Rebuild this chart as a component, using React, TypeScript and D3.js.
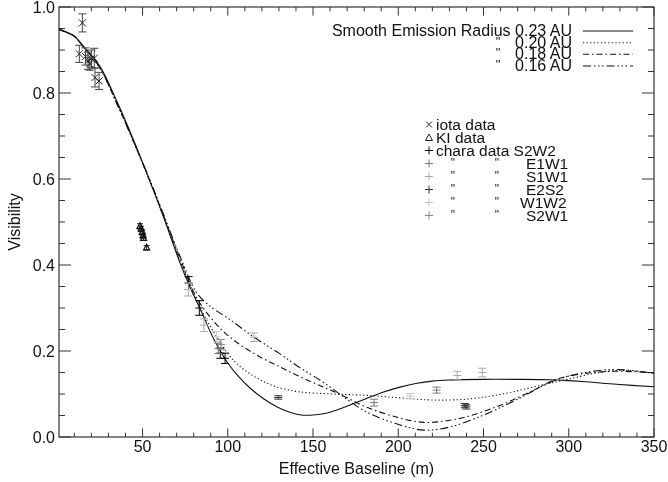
import React, { useEffect } from "react";
import * as d3 from "d3";

const W = 668;
const H = 482;
const PLOT = { left: 59, right: 654, top: 7, bottom: 437 };

// ---- model curves: [baseline (m), visibility] ----
const radius023: [number, number][] = [
  [1, 0.948], [10, 0.932], [15, 0.91], [25, 0.862], [35, 0.78], [45, 0.688], [55, 0.588],
  [62, 0.515], [72, 0.405], [77, 0.356], [84, 0.296], [92, 0.226], [100, 0.172], [106, 0.142],
  [113, 0.114], [121, 0.089], [129, 0.07], [136, 0.058], [143, 0.051], [150, 0.051], [156, 0.054],
  [164, 0.063], [172, 0.075], [181, 0.089], [191, 0.104], [201, 0.116], [211, 0.125], [220, 0.13],
  [230, 0.1325], [250, 0.134], [270, 0.134], [289, 0.133], [308, 0.129], [328, 0.1225], [350, 0.117],
];
const radius020: [number, number][] = [
  [1, 0.948], [10, 0.932], [15, 0.909], [25, 0.859], [35, 0.777], [45, 0.685], [55, 0.588],
  [62, 0.516], [72, 0.41], [82, 0.316], [92, 0.242], [101, 0.189], [106, 0.168], [113, 0.147],
  [121, 0.129], [129, 0.116], [142, 0.105], [162, 0.1], [181, 0.097], [201, 0.091], [220, 0.086],
  [240, 0.088], [260, 0.099], [279, 0.116], [299, 0.134], [318, 0.15], [333, 0.155], [350, 0.148],
];
const radius018: [number, number][] = [
  [1, 0.948], [10, 0.932], [15, 0.909], [25, 0.858], [35, 0.775], [45, 0.684], [55, 0.589],
  [62, 0.518], [72, 0.415], [82, 0.322], [92, 0.268], [101, 0.233], [115, 0.195], [130, 0.164],
  [142, 0.141], [155, 0.118], [166, 0.099], [181, 0.07], [201, 0.044], [215, 0.034], [225, 0.036],
  [240, 0.047], [260, 0.074], [279, 0.108], [291, 0.132], [308, 0.147], [328, 0.153], [350, 0.149],
];
const radius016: [number, number][] = [
  [1, 0.948], [10, 0.932], [15, 0.909], [25, 0.858], [35, 0.775], [45, 0.685], [55, 0.591],
  [62, 0.521], [72, 0.42], [82, 0.334], [91, 0.3], [101, 0.274], [115, 0.233], [130, 0.195],
  [142, 0.162], [155, 0.13], [166, 0.099], [181, 0.059], [201, 0.028], [215, 0.016], [230, 0.023],
  [250, 0.051], [269, 0.086], [291, 0.13], [308, 0.149], [328, 0.157], [350, 0.148],
];

// ---- observations: [baseline, visibility, error] ----
const iotaData: [number, number, number][] = [
  [14.7, 0.963, 0.021], [12.9, 0.891, 0.02], [16.5, 0.885, 0.02], [18, 0.875, 0.02],
  [20, 0.88, 0.02], [21.7, 0.881, 0.023], [19, 0.868, 0.015], [22.1, 0.836, 0.022], [24.5, 0.828, 0.02],
];
const kiData: [number, number, number][] = [
  [48.5, 0.49, 0.006], [49.2, 0.484, 0.006], [49.8, 0.476, 0.006], [50.3, 0.468, 0.006],
  [50.6, 0.462, 0.005], [52.4, 0.44, 0.005],
];
const charaS2W2: [number, number, number][] = [[77, 0.358, 0.015], [83.3, 0.3, 0.017], [95.6, 0.195, 0.012], [98.4, 0.183, 0.012]];
const charaE1W1: [number, number, number][] = [[94.4, 0.206, 0.012], [185.8, 0.08, 0.008], [222.5, 0.109, 0.007]];
const charaS1W1: [number, number, number][] = [[76.8, 0.343, 0.015], [86, 0.26, 0.015], [115.4, 0.232, 0.01], [234.6, 0.143, 0.01], [249.3, 0.15, 0.01]];
const charaE2S2: [number, number, number][] = [[129.6, 0.092, 0.004], [239, 0.073, 0.005], [240, 0.07, 0.005]];
const charaW1W2: [number, number, number][] = [[93.5, 0.233, 0.012], [206.9, 0.095, 0.006]];
const charaS2W1: [number, number, number][] = [[96, 0.215, 0.012]];

const charaNames = ["S2W2", "E1W1", "S1W1", "E2S2", "W1W2", "S2W1"];
const charaColors = ["#000000", "#777777", "#aaaaaa", "#333333", "#c4c4c4", "#888888"];
const charaSets = [charaS2W2, charaE1W1, charaS1W1, charaE2S2, charaW1W2, charaS2W1];

const modelLabels = ["0.23 AU", "0.20 AU", "0.18 AU", "0.16 AU"];
const modelDashes = ["none", "1.2,2.4", "6,3,1.5,3", "8,3,1.5,2.5,1.5,2.5,1.5,3"];
const modelCurves = [radius023, radius020, radius018, radius016];

const xTicks = [50, 100, 150, 200, 250, 300, 350];
const yTicks = [0, 0.2, 0.4, 0.6, 0.8, 1.0];

const FONT = "'Liberation Sans', Arial, Helvetica, sans-serif";

export default function App() {
  useEffect(() => {
    document.body.style.margin = "0";
  }, []);

  const x = d3.scaleLinear().domain([1, 350]).range([PLOT.left, PLOT.right]);
  const y = d3.scaleLinear().domain([0, 1]).range([PLOT.bottom, PLOT.top]);
  const line = d3
    .line<[number, number]>()
    .x((d) => x(d[0]))
    .y((d) => y(d[1]))
    .curve(d3.curveCatmullRom.alpha(0.5));

  const xMinor = d3.range(10, 350, 10).filter((v) => v % 50 !== 0);
  const yMinor = d3.range(0.05, 1, 0.05).filter((v) => Math.abs(v * 5 - Math.round(v * 5)) > 1e-6);
  const axisColor = "#333";
  const XT = 8.6, XTm = 4.3, YT = 12, YTm = 6;

  const errBar = (px: number, py: number, e: number, color: string, cap: number, key: string) => {
    const y0 = y(py - e), y1 = y(py + e), cx = x(px);
    return (
      <g key={key} stroke={color} strokeWidth={1} fill="none">
        <line x1={cx} x2={cx} y1={y0} y2={y1} />
        <line x1={cx - cap / 2} x2={cx + cap / 2} y1={y0} y2={y0} />
        <line x1={cx - cap / 2} x2={cx + cap / 2} y1={y1} y2={y1} />
      </g>
    );
  };

  const legendRowsY = [129.5, 142.5, 155.5, 168.5, 181.5, 194.5, 207.5, 220.5];
  const modelRowsY = [36, 47.7, 59.3, 71];

  return (
    <svg width={W} height={H} style={{ position: "absolute", left: 0, top: 0, background: "#fff" }} fontFamily={FONT}>
      <rect x={0} y={0} width={W} height={H} fill="#fff" />
      {/* frame */}
      <rect x={PLOT.left} y={PLOT.top} width={PLOT.right - PLOT.left} height={PLOT.bottom - PLOT.top} fill="none" stroke={axisColor} strokeWidth={1.2} />
      {/* ticks */}
      <g stroke={axisColor} strokeWidth={1}>
        {xTicks.map((t) => (
          <g key={"xt" + t}>
            <line x1={x(t)} x2={x(t)} y1={PLOT.bottom} y2={PLOT.bottom - XT} />
            <line x1={x(t)} x2={x(t)} y1={PLOT.top} y2={PLOT.top + XT} />
          </g>
        ))}
        {xMinor.map((t) => (
          <g key={"xm" + t}>
            <line x1={x(t)} x2={x(t)} y1={PLOT.bottom} y2={PLOT.bottom - XTm} />
            <line x1={x(t)} x2={x(t)} y1={PLOT.top} y2={PLOT.top + XTm} />
          </g>
        ))}
        {yTicks.map((t) => (
          <g key={"yt" + t}>
            <line x1={PLOT.left} x2={PLOT.left + YT} y1={y(t)} y2={y(t)} />
            <line x1={PLOT.right} x2={PLOT.right - YT} y1={y(t)} y2={y(t)} />
          </g>
        ))}
        {yMinor.map((t) => (
          <g key={"ym" + t}>
            <line x1={PLOT.left} x2={PLOT.left + YTm} y1={y(t)} y2={y(t)} />
            <line x1={PLOT.right} x2={PLOT.right - YTm} y1={y(t)} y2={y(t)} />
          </g>
        ))}
      </g>
      {/* tick labels */}
      <g fontSize={16} fill="#111" opacity={0.999}>
        {xTicks.map((t) => (
          <text key={"xl" + t} x={x(t)} y={452} textAnchor="middle">{t}</text>
        ))}
        {yTicks.map((t) => (
          <text key={"yl" + t} x={PLOT.left - 4} y={y(t) + 5.5} textAnchor="end">{t.toFixed(1)}</text>
        ))}
        <text x={(PLOT.left + PLOT.right) / 2} y={474} textAnchor="middle">Effective Baseline (m)</text>
        <text transform={`translate(20,${(PLOT.top + PLOT.bottom) / 2}) rotate(-90)`} textAnchor="middle">Visibility</text>
      </g>
      {/* model curves */}
      <g fill="none" stroke="#111" strokeWidth={1.1}>
        {modelCurves.map((c, i) => (
          <path key={"c" + i} d={line(c) || ""} strokeDasharray={modelDashes[i]} />
        ))}
      </g>
      {/* iota data */}
      {iotaData.map((d, i) => {
        const cx = x(d[0]), cy = y(d[1]);
        return (
          <g key={"io" + i}>
            {errBar(d[0], d[1], d[2], "#444", 8, "ioe" + i)}
            <path d={`M${cx - 3.5},${cy - 3.5}L${cx + 3.5},${cy + 3.5}M${cx - 3.5},${cy + 3.5}L${cx + 3.5},${cy - 3.5}`} stroke="#222" strokeWidth={1} />
          </g>
        );
      })}
      {/* KI data */}
      {kiData.map((d, i) => {
        const cx = x(d[0]), cy = y(d[1]);
        return (
          <g key={"ki" + i}>
            {errBar(d[0], d[1], d[2], "#222", 6, "kie" + i)}
            <path d={`M${cx},${cy - 3.5}L${cx + 3},${cy + 2}L${cx - 3},${cy + 2}Z`} fill="none" stroke="#111" strokeWidth={1.2} />
          </g>
        );
      })}
      {/* CHARA data */}
      {charaSets.map((set, si) =>
        set.map((d, i) => {
          const cx = x(d[0]), cy = y(d[1]);
          return (
            <g key={"ch" + si + "-" + i}>
              {errBar(d[0], d[1], d[2], charaColors[si], 8, "che" + si + "-" + i)}
              <line x1={cx - 4} x2={cx + 4} y1={cy} y2={cy} stroke={charaColors[si]} strokeWidth={1} />
            </g>
          );
        })
      )}
      {/* model legend (one multi-line text block) */}
      <text fontSize={16} fill="#111" opacity={0.999}>
        <tspan x={572} y={modelRowsY[0]} textAnchor="end">Smooth Emission Radius {modelLabels[0]}</tspan>
        {modelLabels.slice(1).map((l, i) => (
          <React.Fragment key={"ml" + i}>
            <tspan x={498} y={modelRowsY[i + 1] - 2} textAnchor="middle" fontSize={13} fill="#222">"</tspan>
            <tspan x={572} y={modelRowsY[i + 1]} textAnchor="end">{l}</tspan>
          </React.Fragment>
        ))}
      </text>
      <g>
        {modelLabels.map((l, i) => (
          <line key={"mll" + i} x1={583} x2={633} y1={modelRowsY[i] - 5} y2={modelRowsY[i] - 5} stroke="#111" strokeWidth={1.1} strokeDasharray={modelDashes[i]} />
        ))}
      </g>
      {/* data legend symbols */}
      <g>
        <path d={`M${426},${legendRowsY[0] - 8}L${432},${legendRowsY[0] - 2}M${426},${legendRowsY[0] - 2}L${432},${legendRowsY[0] - 8}`} stroke="#222" strokeWidth={1} />
        <path d={`M${429},${legendRowsY[1] - 8.5}L${432.5},${legendRowsY[1] - 2}L${425.5},${legendRowsY[1] - 2}Z`} fill="none" stroke="#222" strokeWidth={1} />
        {charaNames.map((n, i) => {
          const ly = legendRowsY[i + 2];
          return (
            <path key={"cs" + i} d={`M${425},${ly - 5}L${433},${ly - 5}M${429},${ly - 9}L${429},${ly - 1}`} stroke={i === 0 ? "#111" : charaColors[i]} strokeWidth={1} />
          );
        })}
      </g>
      {/* data legend text (one multi-line text block) */}
      <text fontSize={15.5} fill="#111" opacity={0.999}>
        <tspan x={436} y={legendRowsY[0]}>iota data</tspan>
        <tspan x={436} y={legendRowsY[1]}>KI data</tspan>
        {charaNames.map((n, i) => {
          const ly = legendRowsY[i + 2];
          return i === 0 ? (
            <tspan key={"ct" + i} x={436} y={ly}>chara data {n}</tspan>
          ) : (
            <React.Fragment key={"ct" + i}>
              <tspan x={453} y={ly - 2} textAnchor="middle" fontSize={12} fill="#222">"</tspan>
              <tspan x={497} y={ly - 2} textAnchor="middle" fontSize={12} fill="#222">"</tspan>
              <tspan x={n === "W1W2" ? 520 : 526} y={ly} textAnchor="start">{n}</tspan>
            </React.Fragment>
          );
        })}
      </text>
    </svg>
  );
}
